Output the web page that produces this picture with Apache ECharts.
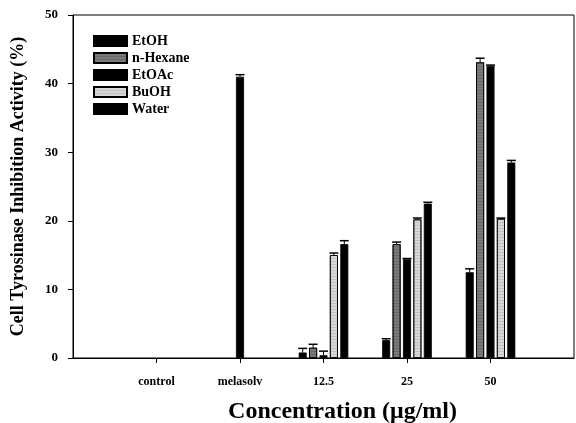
<!DOCTYPE html>
<html>
<head>
<meta charset="utf-8">
<script src="https://cdn.jsdelivr.net/npm/echarts@6/dist/echarts.min.js"></script>
<style>html,body{margin:0;padding:0;background:#fff}#c{width:576px;height:423px}</style>
</head>
<body>
<div id="c"></div>
<script>
var categories = ['', 'control', 'melasolv', '12.5', '25', '50', ''];
var seriesNames = ['EtOH', 'n-Hexane', 'EtOAc', 'BuOH', 'Water'];
var etoh    = [null, null, null, 0.8, 2.6, 12.5, null];
var hexane  = [null, null, null, 1.5, 16.6, 43.1, null];
var etoac   = [null, null, 41.0, 0.4, 14.4, 42.6, null];
var buoh    = [null, null, null, 15.0, 20.2, 20.3, null];
var water   = [null, null, null, 16.6, 22.5, 28.5, null];
var etohErr   = [null, null, null, 0.6, 0.2, 0.5, null];
var hexaneErr = [null, null, null, 0.5, 0.3, 0.6, null];
var etoacErr  = [null, null, 0.3, 0.6, 0.1, 0.1, null];
var buohErr   = [null, null, null, 0.3, 0.2, 0.1, null];
var waterErr  = [null, null, null, 0.5, 0.2, 0.3, null];
var yTicks = [0, 10, 20, 30, 40, 50];

var values = [etoh, hexane, etoac, buoh, water];
var errs = [etohErr, hexaneErr, etoacErr, buohErr, waterErr];
var colors = ['#000000', '#7a7a7a', '#000000', '#d8d8d8', '#000000'];
var BW = 8, GAP = 2.4;
var font = 'Liberation Serif';

var chart = echarts.init(document.getElementById('c'));
var series = [];
seriesNames.forEach(function (n, i) {
  series.push({
    name: n, type: 'bar', data: values[i], barWidth: BW, barGap: '30%',
    itemStyle: { color: colors[i], borderColor: '#000', borderWidth: 0.8,
      decal: (i === 1 || i === 3) ? { symbol: 'rect', symbolSize: 0.6, dashArrayX: [1, 0], dashArrayY: [1, 2], color: i === 1 ? 'rgba(30,30,30,0.6)' : 'rgba(90,90,90,0.6)' } : null },
    emphasis: { disabled: true }, silent: true
  });
});
seriesNames.forEach(function (n, i) {
  var d = [];
  values[i].forEach(function (v, k) { if (v != null && errs[i][k] != null) d.push([k, v, errs[i][k]]); });
  series.push({
    type: 'custom', silent: true, z: 5,
    renderItem: function (params, api) {
      var x = api.value(0), v = api.value(1), e = api.value(2);
      var top = api.coord([x, v + e]);
      var base = api.coord([x, v]);
      var cx = top[0] + (i - 2) * (BW + GAP);
      return { type: 'group', children: [
        { type: 'line', shape: { x1: cx, y1: base[1], x2: cx, y2: top[1] }, style: { stroke: '#000', lineWidth: 1 } },
        { type: 'line', shape: { x1: cx - 4.5, y1: top[1], x2: cx + 4.5, y2: top[1] }, style: { stroke: '#000', lineWidth: 1.5 } }
      ] };
    },
    data: d
  });
});

chart.setOption({
  animation: false,
  textStyle: { fontFamily: font },
  grid: { left: 73, right: 2, top: 15, bottom: 65, containLabel: false, outerBoundsMode: 'none',
    show: true, borderColor: '#000', borderWidth: 1, backgroundColor: 'transparent' },
  legend: {
    data: seriesNames, orient: 'vertical', left: 88, top: 29,
    itemWidth: 33, itemHeight: 10, itemGap: 3, icon: 'rect',
    textStyle: { fontFamily: font, fontWeight: 'bold', fontSize: 14, lineHeight: 14, color: '#000' }
  },
  xAxis: {
    type: 'category', data: categories, boundaryGap: false,
    axisLine: { lineStyle: { color: '#000', width: 1 } },
    axisTick: { alignWithLabel: true, length: 5, lineStyle: { color: '#000' }, interval: function (idx) { return idx > 0 && idx < categories.length - 1; } },
    axisLabel: { interval: 0, margin: 18, fontFamily: font, fontWeight: 'bold', fontSize: 12, color: '#000' },
    name: 'Concentration (\u03bcg/ml)', nameLocation: 'middle', nameGap: 42,
    nameTextStyle: { fontFamily: font, fontWeight: 'bold', fontSize: 24, color: '#000', padding: [0, 0, 0, 38] },
    splitLine: { show: false }
  },
  yAxis: {
    type: 'value', min: yTicks[0], max: yTicks[yTicks.length - 1], interval: 10,
    axisLine: { show: true, lineStyle: { color: '#000', width: 1 } },
    axisTick: { show: true, length: 5, lineStyle: { color: '#000' } },
    axisLabel: { margin: 15, fontFamily: font, fontWeight: 'bold', fontSize: 13, color: '#000' },
    splitLine: { show: false },
    name: 'Cell Tyrosinase Inhibition Activity (%)', nameLocation: 'middle', nameGap: 46,
    nameTextStyle: { fontFamily: font, fontWeight: 'bold', fontSize: 18, color: '#000' }
  },
  series: series
});
</script>
</body>
</html>
